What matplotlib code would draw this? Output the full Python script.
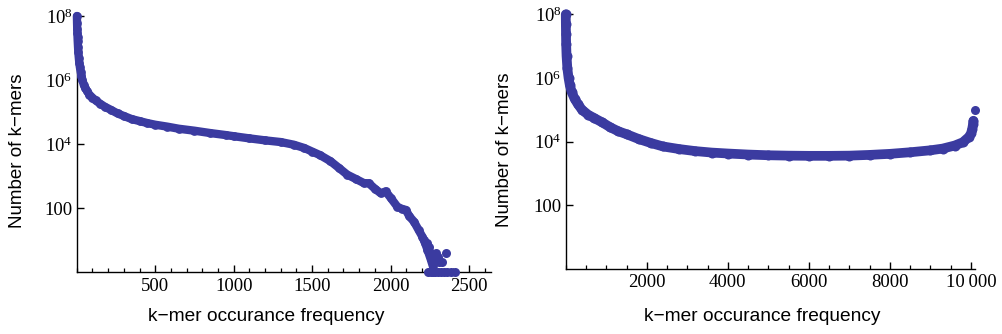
import numpy as np
import matplotlib
matplotlib.use("Agg")
import matplotlib.pyplot as plt
from matplotlib.ticker import FixedLocator, MultipleLocator, NullLocator

plt.rcParams['mathtext.default'] = 'regular'

# ---------------- data ----------------
left_freq = [1, 2, 3, 4, 5, 6, 8, 10, 13, 16, 20, 25, 30, 36, 45, 55, 65, 80, 100,
             120, 150, 180, 220, 260, 300, 350, 400, 450, 500, 575, 650, 750, 850,
             950, 1000, 1100, 1200, 1300, 1383, 1450, 1500, 1550, 1617, 1670, 1724,
             1780, 1830, 1862, 1900, 1937, 1969, 2000, 2043, 2070, 2097, 2120, 2150,
             2180, 2203, 2220, 2235, 2256, 2270]
left_count = [1.0e8, 6e7, 4e7, 3e7, 2.2e7, 1.7e7, 1.1e7, 7.5e6, 5e6, 3.5e6, 2.5e6,
              1.8e6, 1.35e6, 1e6, 7e5, 5.5e5, 4.6e5, 3.5e5, 2.8e5, 2.3e5, 1.8e5,
              1.45e5, 1.15e5, 9e4, 7.5e4, 6e4, 5.2e4, 4.5e4, 4e4, 3.5e4, 3.0e4,
              2.6e4, 2.2e4, 1.9e4, 1.75e4, 1.5e4, 1.3e4, 1.15e4, 9.5e3, 7.5e3,
              5.8e3, 4.5e3, 2.9e3, 1.8e3, 1.1e3, 800, 600, 590, 400, 290, 330, 210,
              110, 95, 87, 55, 37, 20, 12.6, 8, 5, 2.5, 1.5]
left_tail_freq = [2215, 2230, 2245, 2240, 2255, 2260, 2265, 2270, 2280, 2285, 2290,
                  2300, 2300, 2310, 2320, 2330, 2340, 2352, 2360, 2385, 2410]
left_tail_count = [10, 8, 6, 1, 1, 4, 3, 1, 2, 1, 4, 3, 1, 2, 1, 2, 1, 4, 1, 1, 1]

right_freq = [1, 3, 6, 10, 20, 40, 70, 100, 150, 220, 300, 400, 550, 700, 900,
              1100, 1300, 1500, 1800, 2100, 2400, 2800, 3200, 3600, 4000, 4500,
              5000, 5500, 6000, 6500, 7000, 7500, 8000, 8500, 9000, 9300, 9600,
              9800, 9950, 10000, 10030, 10050, 10060]
right_count = [1e8, 5e7, 2.5e7, 1.2e7, 5e6, 2e6, 1e6, 6e5, 3.5e5, 2.2e5, 1.5e5,
               1e5, 7e4, 5.5e4, 4e4, 2.8e4, 2.1e4, 1.7e4, 1.2e4, 9e3, 7e3, 5.8e3,
               5e3, 4.5e3, 4.2e3, 3.9e3, 3.7e3, 3.6e3, 3.55e3, 3.55e3, 3.6e3,
               3.8e3, 4.1e3, 4.6e3, 5.3e3, 6e3, 7.5e3, 9.5e3, 1.4e4, 1.8e4, 2.5e4,
               3.5e4, 4.5e4]
right_out_freq = [10100]
right_out_count = [1e5]

left_xticks = [500, 1000, 1500, 2000, 2500]
left_xticklabels = ['500', '1000', '1500', '2000', '2500']
right_xticks = [2000, 4000, 6000, 8000, 10000]
right_xticklabels = ['2000', '4000', '6000', '8000', '10\u2009000']
yticks = [100, 1e4, 1e6, 1e8]
yticklabels = ['100', r'$\mathregular{10^{4}}$', r'$\mathregular{10^{6}}$',
               r'$\mathregular{10^{8}}$']

xlabel = 'k\u2212mer occurance frequency'
ylabel = 'Number of k\u2212mers'

COL = '#3b3ba0'
SERIF = 'Liberation Serif'
SANS = 'Liberation Sans'
TICKFS = 13.5

fig = plt.figure(figsize=(10.02, 3.34), dpi=100)
axL = fig.add_axes([0.0766, 0.1856, 0.4134, 0.7686])
axR = fig.add_axes([0.5646, 0.1955, 0.4085, 0.7635])


def style(ax, xlim, xticks, xlabels, minor, lab_xy_x, lab_xy_y):
    ax.set_yscale('log')
    ax.set_xlim(*xlim)
    ax.set_ylim(1, 1.05e8)
    for s in ('top', 'right'):
        ax.spines[s].set_visible(False)
    for s in ('left', 'bottom'):
        ax.spines[s].set_linewidth(1.0)
    ax.tick_params(which='major', direction='in', length=5, width=1.0, pad=4)
    ax.tick_params(which='minor', direction='in', length=3, width=0.9)
    ax.tick_params(axis='y', pad=3)
    ax.xaxis.set_major_locator(FixedLocator(xticks))
    ax.set_xticklabels(xlabels, fontsize=TICKFS, fontfamily=SERIF)
    ax.xaxis.set_minor_locator(MultipleLocator(minor))
    ax.yaxis.set_major_locator(FixedLocator(yticks))
    ax.yaxis.set_minor_locator(NullLocator())
    ax.set_yticklabels(yticklabels, fontsize=TICKFS, fontfamily=SERIF)
    ax.set_xlabel(xlabel, fontsize=13.8, fontfamily=SANS)
    ax.set_ylabel(ylabel, fontsize=13.5, fontfamily=SANS)
    ax.xaxis.set_label_coords(lab_xy_x[0], lab_xy_x[1])
    ax.yaxis.set_label_coords(lab_xy_y[0], lab_xy_y[1])


style(axL, (0, 2640), left_xticks, left_xticklabels, 100,
      (0.457, -0.14), (-0.122, 0.471))
style(axR, (0, 10100), right_xticks, right_xticklabels, 500,
      (0.481, -0.154), (-0.13, 0.465))

axL.plot(left_freq, left_count, color=COL, lw=6, marker='o', ms=6.3, mew=0,
         solid_capstyle='round', solid_joinstyle='round', clip_on=False, zorder=3)
axL.plot(left_tail_freq, left_tail_count, 'o', color=COL, ms=6.5, mew=0,
         clip_on=False, zorder=3)
axR.plot(right_freq, right_count, color=COL, lw=7, marker='o', ms=7.2, mew=0,
         solid_capstyle='round', solid_joinstyle='round', clip_on=False, zorder=3)
axR.plot(right_out_freq, right_out_count, 'o', color=COL, ms=6.5, mew=0,
         clip_on=False, zorder=3)

fig.savefig('out.png', dpi=100)
